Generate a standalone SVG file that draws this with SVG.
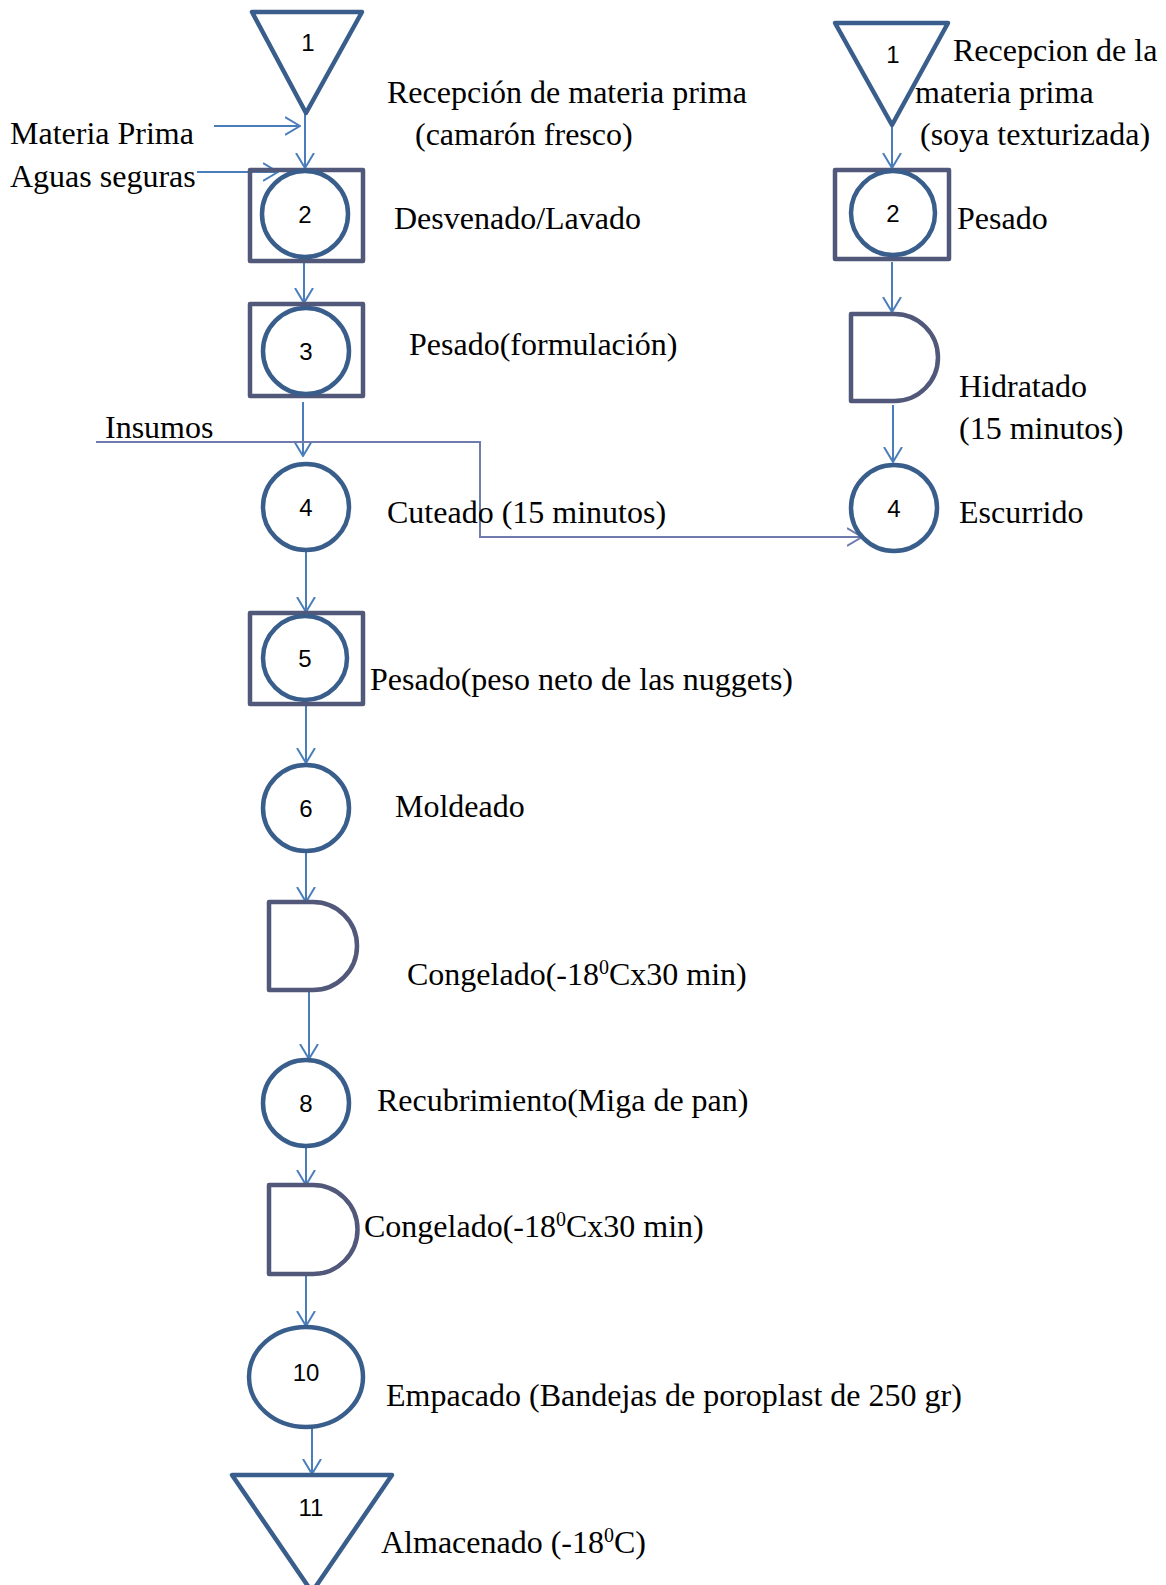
<svg xmlns="http://www.w3.org/2000/svg" width="1166" height="1585" viewBox="0 0 1166 1585">
<style>
.bg{fill:#ffffff}
.shp{fill:none;stroke:#395e8c;stroke-width:4.5;stroke-linejoin:round}
.box{fill:none;stroke:#51587a;stroke-width:4.5;stroke-linejoin:round}
.num{font-family:"Liberation Sans",Arial,sans-serif;font-size:24px;fill:#000;text-anchor:middle}
.lbl{font-family:"Liberation Serif","Times New Roman",serif;font-size:32px;fill:#000}
.sup{font-size:20px}
.con{fill:none;stroke:#4a7ebb;stroke-width:2}
.ins{fill:none;stroke:#6f7bad;stroke-width:2}
</style>
<defs>
<marker id="arr" viewBox="0 0 16 20" refX="15" refY="10" markerWidth="16" markerHeight="20" markerUnits="userSpaceOnUse" orient="auto">
<path d="M0,1 L15,10 L0,19" fill="none" stroke="#4a7ebb" stroke-width="2"/>
</marker>
<marker id="arr2" viewBox="0 0 16 20" refX="15" refY="10" markerWidth="16" markerHeight="20" markerUnits="userSpaceOnUse" orient="auto">
<path d="M0,1 L15,10 L0,19" fill="none" stroke="#6f7bad" stroke-width="2"/>
</marker>
</defs>
<rect class="bg" x="0" y="0" width="1166" height="1585"/>

<g id="connectors">
<line class="con" x1="305" y1="113" x2="305" y2="168" marker-end="url(#arr)"/>
<line class="con" x1="214" y1="126" x2="300" y2="126" marker-end="url(#arr)"/>
<line class="con" x1="197" y1="172" x2="278" y2="172" marker-end="url(#arr)"/>
<line class="con" x1="304" y1="257" x2="304" y2="303" marker-end="url(#arr)"/>
<line class="con" x1="303" y1="402" x2="303" y2="456" marker-end="url(#arr)"/>
<polyline class="ins" points="96,442 480,442 480,537 862,537" marker-end="url(#arr2)"/>
<line class="con" x1="306" y1="552" x2="306" y2="612" marker-end="url(#arr)"/>
<line class="con" x1="306" y1="704" x2="306" y2="763" marker-end="url(#arr)"/>
<line class="con" x1="306" y1="852" x2="306" y2="902" marker-end="url(#arr)"/>
<line class="con" x1="309" y1="990" x2="309" y2="1059" marker-end="url(#arr)"/>
<line class="con" x1="306" y1="1147" x2="306" y2="1185" marker-end="url(#arr)"/>
<line class="con" x1="306" y1="1274" x2="306" y2="1326" marker-end="url(#arr)"/>
<line class="con" x1="312" y1="1427" x2="312" y2="1474" marker-end="url(#arr)"/>
<line class="con" x1="892" y1="125" x2="892" y2="168" marker-end="url(#arr)"/>
<line class="con" x1="892" y1="262" x2="892" y2="312" marker-end="url(#arr)"/>
<line class="con" x1="893" y1="405" x2="893" y2="462" marker-end="url(#arr)"/>
</g>

<g id="n1">
<polygon class="shp" points="252,12 362,12 306,113"/>
<text class="num" x="308" y="51">1</text>
<text class="lbl" x="387" y="103">Recepción de materia prima</text>
<text class="lbl" x="415" y="145">(camarón fresco)</text>
</g>
<g id="inputs">
<text class="lbl" x="10" y="144">Materia Prima</text>
<text class="lbl" x="10" y="187">Aguas seguras</text>
</g>
<g id="n2">
<rect class="box" x="250" y="170" width="113" height="91"/>
<circle class="shp" cx="305" cy="214" r="43"/>
<text class="num" x="305" y="223">2</text>
<text class="lbl" x="394" y="229">Desvenado/Lavado</text>
</g>
<g id="n3">
<rect class="box" x="250" y="304" width="113" height="92"/>
<circle class="shp" cx="306" cy="351" r="43"/>
<text class="num" x="306" y="360">3</text>
<text class="lbl" x="409" y="355">Pesado(formulación)</text>
</g>
<g id="insumos">
<text class="lbl" x="105" y="438">Insumos</text>
</g>
<g id="n4">
<circle class="shp" cx="306" cy="507" r="43"/>
<text class="num" x="306" y="516">4</text>
<text class="lbl" x="387" y="523">Cuteado (15 minutos)</text>
</g>
<g id="n5">
<rect class="box" x="250" y="613" width="113" height="91"/>
<circle class="shp" cx="305" cy="658" r="42"/>
<text class="num" x="305" y="667">5</text>
<text class="lbl" x="370" y="690">Pesado(peso neto de las nuggets)</text>
</g>
<g id="n6">
<circle class="shp" cx="306" cy="808" r="43"/>
<text class="num" x="306" y="817">6</text>
<text class="lbl" x="395" y="817">Moldeado</text>
</g>
<g id="n7">
<path class="box" d="M269,902 H313 A44,44 0 0 1 313,990 H269 Z"/>
<text class="lbl" x="407" y="985">Congelado(-18<tspan class="sup" dy="-11">0</tspan><tspan dy="11">Cx30 min)</tspan></text>
</g>
<g id="n8">
<circle class="shp" cx="306" cy="1103" r="43"/>
<text class="num" x="306" y="1112">8</text>
<text class="lbl" x="377" y="1111">Recubrimiento(Miga de pan)</text>
</g>
<g id="n9">
<path class="box" d="M269,1185 H313 A44.5,44.5 0 0 1 313,1274 H269 Z"/>
<text class="lbl" x="364" y="1237">Congelado(-18<tspan class="sup" dy="-11">0</tspan><tspan dy="11">Cx30 min)</tspan></text>
</g>
<g id="n10">
<ellipse class="shp" cx="306" cy="1377" rx="57" ry="50"/>
<text class="num" x="306" y="1381">10</text>
<text class="lbl" x="386" y="1406">Empacado (Bandejas de poroplast de 250 gr)</text>
</g>
<g id="n11">
<polygon class="shp" points="232,1475 392,1475 312,1592"/>
<text class="num" x="311" y="1516">11</text>
<text class="lbl" x="381" y="1553">Almacenado (-18<tspan class="sup" dy="-11">0</tspan><tspan dy="11">C)</tspan></text>
</g>

<g id="r1">
<polygon class="shp" points="835,23 948,23 892,125"/>
<text class="num" x="893" y="63">1</text>
<text class="lbl" x="953" y="61">Recepcion de la</text>
<text class="lbl" x="915" y="103">materia prima</text>
<text class="lbl" x="920" y="145">(soya texturizada)</text>
</g>
<g id="r2">
<rect class="box" x="835" y="170" width="114" height="89"/>
<circle class="shp" cx="893" cy="213" r="42"/>
<text class="num" x="893" y="222">2</text>
<text class="lbl" x="957" y="229">Pesado</text>
</g>
<g id="r3">
<path class="box" d="M851,314 H894.5 A43.5,43.5 0 0 1 894.5,401 H851 Z"/>
<text class="lbl" x="959" y="397">Hidratado</text>
<text class="lbl" x="959" y="439">(15 minutos)</text>
</g>
<g id="r4">
<circle class="shp" cx="894" cy="508" r="43"/>
<text class="num" x="894" y="517">4</text>
<text class="lbl" x="959" y="523">Escurrido</text>
</g>
</svg>
